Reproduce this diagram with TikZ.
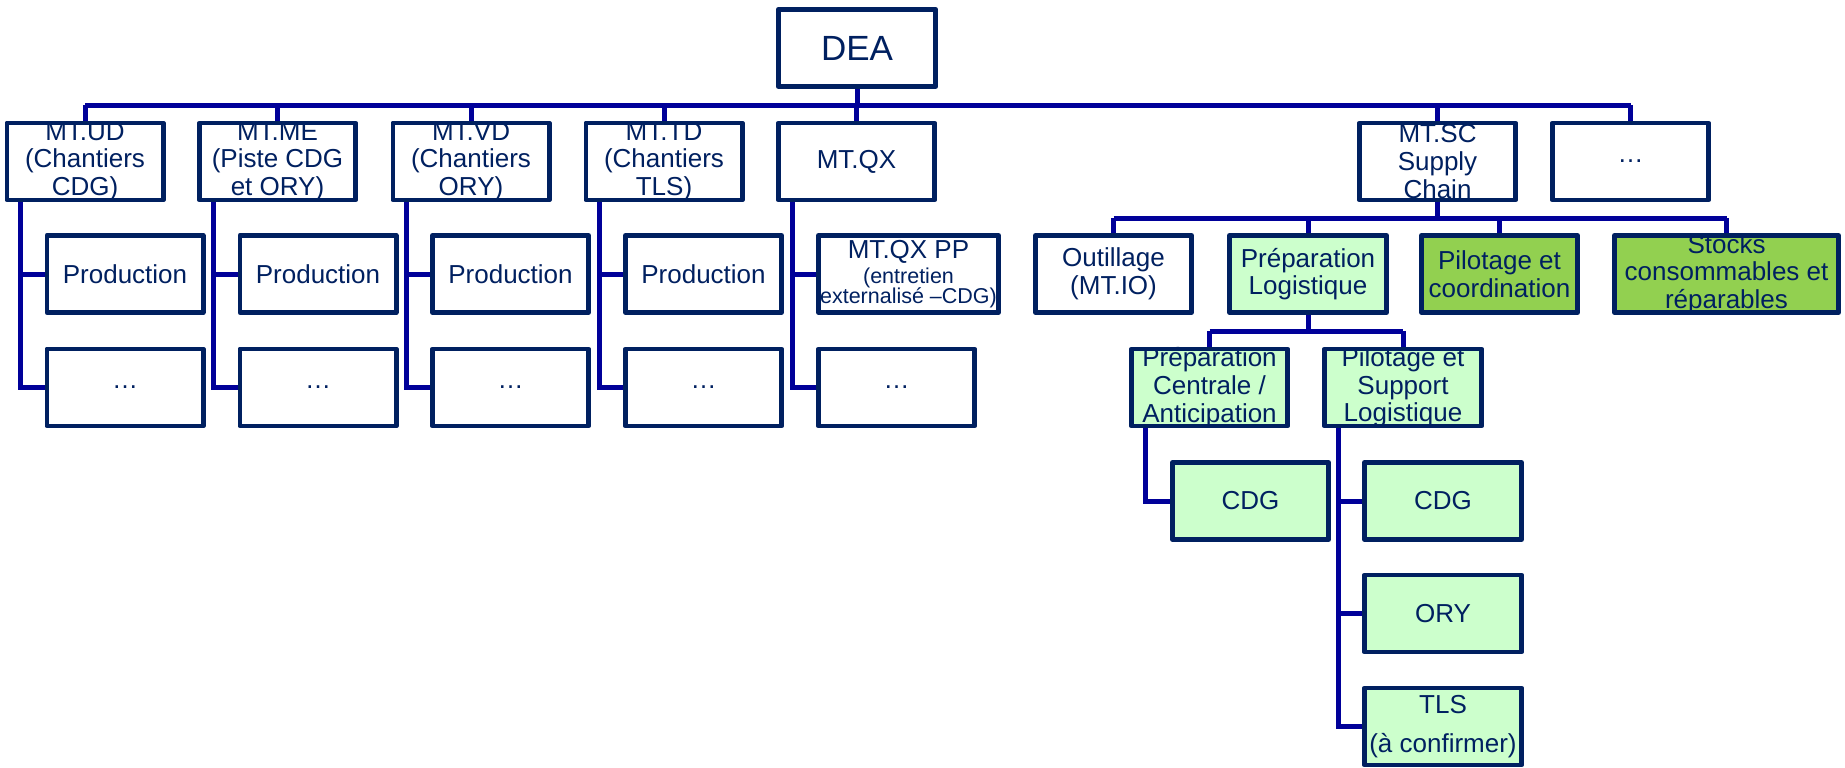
\documentclass[tikz,border=0pt]{standalone}
\usepackage{fontspec}
\setmainfont{Liberation Sans}
\definecolor{navy}{RGB}{0,32,96}
\definecolor{conncol}{RGB}{0,0,153}
\definecolor{paleg}{RGB}{204,255,204}
\definecolor{leafg}{RGB}{146,208,80}
\tikzset{
  boxbase/.style={inner sep=0pt, outer sep=0pt, minimum width=156.3pt,
    minimum height=77pt, fill=white},
  pale/.style={fill=paleg},
  leaf/.style={fill=leafg},
  lab/.style={align=center, text=navy, inner sep=0pt,
    font=\fontsize{26}{27.7}\selectfont},
  frame/.style={draw=navy, line width=4.7pt, line join=round},
  conn/.style={draw=conncol, line width=5pt},
}
% \orgbox[options]{name}{centre}{text}: filled box plus its centred label
\newcommand\orgbox[4][]{%
  \node[boxbase,#1] (#2) at (#3) {};
  \node[lab] (#2-t) at (#2) {#4};
}
\begin{document}
\lineskiplimit=-100pt
\begin{tikzpicture}[x=1pt,y=-1pt]
\useasboundingbox (0,0) rectangle (1845,768);

% top
\node[boxbase, minimum width=157.3pt, minimum height=77.3pt] (dea) at (857,48) {};
\node[lab, font=\fontsize{35}{40}\selectfont] (dea-t) at (dea) {DEA};

% directions
\orgbox{ud}{85,161.5}{MT.UD\\(Chantiers\\CDG)}
\orgbox{me}{277.5,161.5}{MT.ME\\(Piste CDG\\et ORY)}
\orgbox{vd}{471,161.5}{MT.VD\\(Chantiers\\ORY)}
\orgbox{td}{664,161.5}{MT.TD\\(Chantiers\\TLS)}
\orgbox{qx}{856.5,161.5}{MT.QX}
\orgbox{sc}{1437.5,161.5}{MT.SC\\Supply\\Chain}
\orgbox{more}{1630.5,161.5}{…}

% second level
\orgbox{p1}{125,274}{Production}
\orgbox{p2}{318,274}{Production}
\orgbox{p3}{510.5,274}{Production}
\orgbox{p4}{703.5,274}{Production}
\orgbox[minimum width=180.3pt]{qxpp}{908.5,274}{MT.QX PP\\[-2.7pt]{\fontsize{21.5}{21}\selectfont(entretien}\\[-7.2pt]{\fontsize{21.5}{21}\selectfont externalisé –CDG)}}
\orgbox{outil}{1113.5,274}{Outillage\\(MT.IO)}
\orgbox[pale, minimum width=157.3pt]{preplog}{1308,274}{Préparation\\Logistique}
\orgbox[leaf]{pilot}{1499.5,274}{Pilotage et\\coordination}
\orgbox[leaf, minimum width=224.3pt]{stocks}{1726.5,274}{Stocks\\consommables et\\réparables}

% third level
\orgbox{e1}{125,387.5}{…}
\orgbox{e2}{318,387.5}{…}
\orgbox{e3}{510.5,387.5}{…}
\orgbox{e4}{703.5,387.5}{…}
\orgbox{e5}{896.5,387.5}{…}
\orgbox[pale]{prepc}{1209.5,387.5}{Préparation\\Centrale /\\Anticipation}
\orgbox[pale, minimum width=157.3pt]{pils}{1403,387.5}{Pilotage et\\Support\\Logistique}

% fourth level
\orgbox[pale]{cdga}{1250.5,501}{CDG}
\orgbox[pale, minimum width=157.3pt]{cdgb}{1443,501}{CDG}
\orgbox[pale, minimum width=157.3pt]{ory}{1443,613.5}{ORY}
\orgbox[pale, minimum width=157.3pt]{tls}{1443,726.5}{TLS\\[11.3pt](à confirmer)}

% connectors
\coordinate (bar) at (857,105);
\coordinate (scbar) at (1437.5,218);
\coordinate (plbar) at (1308,331);

\draw[conn] (dea.south) -- (dea.south |- bar);
\draw[conn] (ud.north |- bar) -- (more.north |- bar);
\foreach \n in {ud,me,vd,td,qx,sc,more}
  \draw[conn] (\n.north |- bar) -- (\n.north);

\foreach \up/\a/\b in {ud/p1/e1, me/p2/e2, vd/p3/e3, td/p4/e4, qx/qxpp/e5}{
  \draw[conn] ([xshift=14pt]\up.south west) |- (\b.west);
  \draw[conn] ([xshift=14pt]\up.south west |- \a.west) -- (\a.west);
}

\draw[conn] (sc.south) -- (sc.south |- scbar);
\draw[conn] (outil.north |- scbar) -- (stocks.north |- scbar);
\foreach \n in {outil,preplog,pilot,stocks}
  \draw[conn] (\n.north |- scbar) -- (\n.north);

\draw[conn] (preplog.south) -- (preplog.south |- plbar);
\draw[conn] (prepc.north |- plbar) -- (pils.north |- plbar);
\foreach \n in {prepc,pils}
  \draw[conn] (\n.north |- plbar) -- (\n.north);

\draw[conn] ([xshift=14.5pt]prepc.south west) |- (cdga.west);
\draw[conn] ([xshift=14.5pt]pils.south west) |- (tls.west);
\foreach \n in {cdgb,ory}
  \draw[conn] ([xshift=14.5pt]pils.south west |- \n.west) -- (\n.west);

% box outlines, drawn over the labels
\foreach \n in {dea,ud,me,vd,td,qx,sc,more,p1,p2,p3,p4,qxpp,outil,preplog,pilot,
    stocks,e1,e2,e3,e4,e5,prepc,pils,cdga,cdgb,ory,tls}
  \draw[frame] (\n.north west) rectangle (\n.south east);
\end{tikzpicture}
\end{document}
